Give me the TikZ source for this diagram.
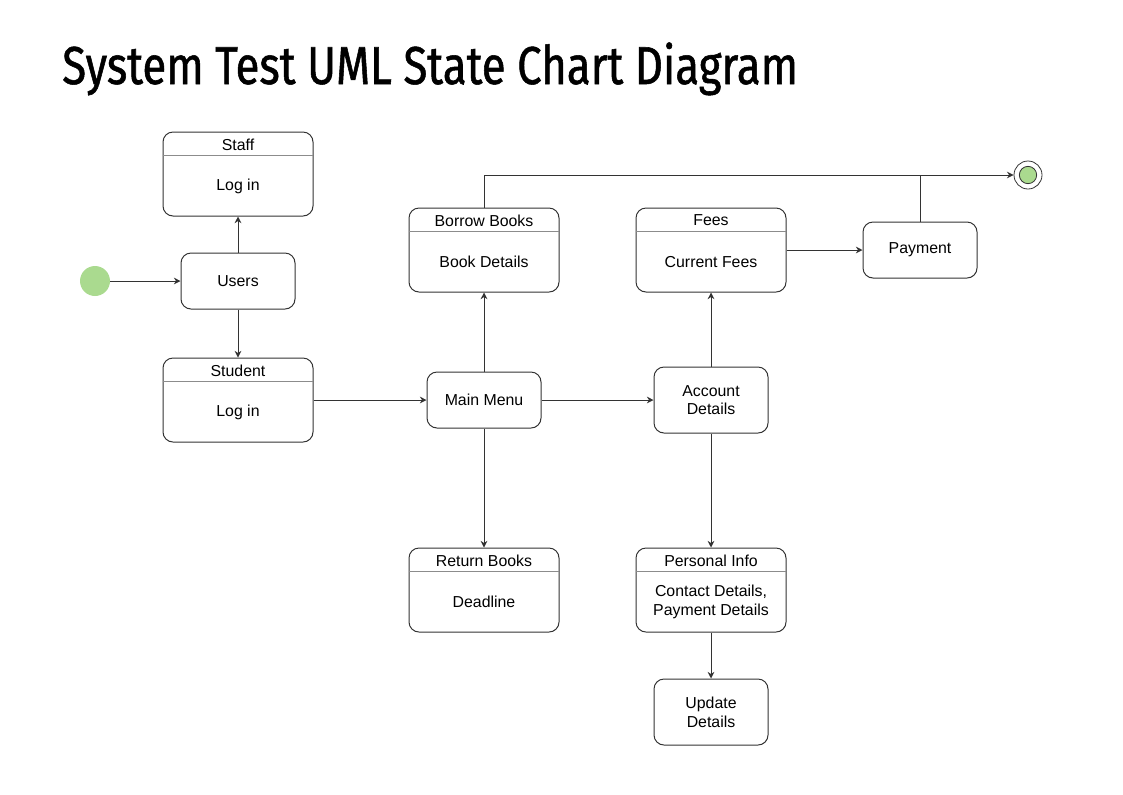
\documentclass[tikz,border=0pt]{standalone}
\usepackage{fontspec}
\setmainfont{Liberation Sans}
\newfontfamily\titlefont[FakeStretch=0.82, FakeBold=1]{Fira Sans}
\usetikzlibrary{arrows.meta}

%% sizes in px (1px = 0.75pt)
\tikzset{
  state/.style={draw=black!80, line width=0.75, rounded corners=7.5, minimum width=85.5, minimum height=42,
    align=center, inner sep=0, font=\fontsize{11.9}{14}\selectfont},
  compbox/.style={draw=black!80, line width=0.75, rounded corners=7.5, minimum width=112.5, minimum height=63, inner sep=0},
  boxtext/.style={align=center, inner sep=0, font=\fontsize{11.9}{14}\selectfont},
  divider/.style={draw=black!45, line width=1.2},
  trans/.style={-{Stealth[length=5,width=5]}, draw=black!80, line width=0.75},
}

\begin{document}
\begin{tikzpicture}[x=0.75pt,y=-0.75pt]
\useasboundingbox (0,0) rectangle (1123,794);

%% title
\node[anchor=base west, inner sep=0, font=\titlefont\fontsize{40}{44}\selectfont] (title) at (62,84) {System Test UML State Chart Diagram};

%% start and end
\node[circle, fill={rgb,255:red,170;green,218;blue,143}, minimum size=22.5, inner sep=0] (start) at (95,281) {};
\node[circle, draw=black!80, line width=0.6, minimum size=21, inner sep=0] (end) at (1028,175) {};
\node[circle, draw=black!80, line width=0.6, fill={rgb,255:red,170;green,218;blue,143}, minimum size=13, inner sep=0] (endin) at (1028,175) {};

%% simple states
\node[state] (users) at (238,281) {Users};
\node[state] (menu) at (484,400) {Main Menu};
\node[state, minimum height=49.5] (account) at (711,400) {Account\\Details};
\node[state, minimum height=49.5] (update) at (711,712) {Update\\Details};
\node[state] (payment) at (920,250) {Payment};

%% states with compartments
\node[compbox] (staff) at (238,174) {};
\node[compbox] (student) at (238,400) {};
\node[compbox] (borrow) at (484,250) {};
\node[compbox] (return) at (484,590) {};
\node[compbox] (fees) at (711,250) {};
\node[compbox] (personal) at (711,590) {};

\foreach \b/\head/\body in {staff/Staff/Log in, student/Student/Log in,
    borrow/Borrow Books/Book Details, return/Return Books/Deadline,
    fees/Fees/Current Fees, personal/Personal Info/{Contact Details,\\Payment Details}}{
  \draw[divider] (\b.north west) ++(0,24) -- ++(150,0);
  \node[boxtext] (\b head) at ([yshift=-13*0.75pt]\b.north) {\head};
  \node[boxtext] (\b body) at ([yshift=-12*0.75pt]\b.center) {\body};
}

%% transitions
\draw[trans] (start) -- (users);
\draw[trans] (users) -- (staff);
\draw[trans] (users) -- (student);
\draw[trans] (student) -- (menu);
\draw[trans] (menu) -- (borrow);
\draw[trans] (menu) -- (return);
\draw[trans] (menu) -- (account);
\draw[trans] (account) -- (fees);
\draw[trans] (account) -- (personal);
\draw[trans] (personal) -- (update);
\draw[trans] (fees) -- (payment);
\draw[trans] (borrow.north) |- (end);
\draw[draw=black!80, line width=0.75] (payment.north) -- (payment.north |- end);

\end{tikzpicture}
\end{document}
